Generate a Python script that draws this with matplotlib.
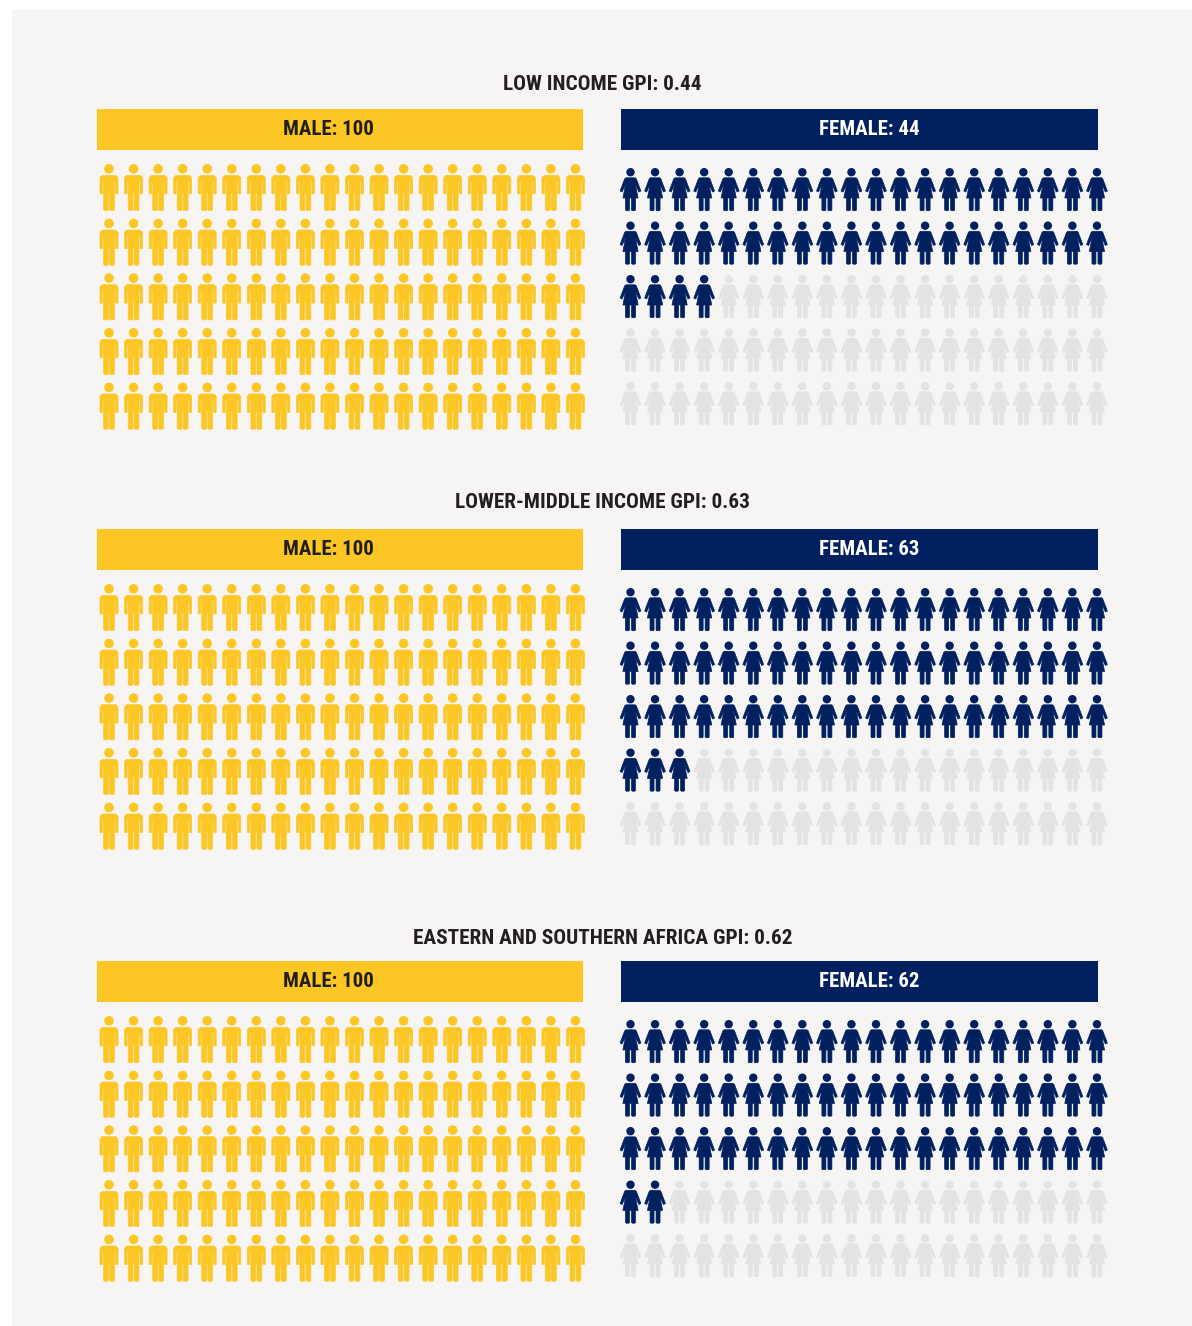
import matplotlib
matplotlib.use("Agg")
import matplotlib.pyplot as plt
from matplotlib.patches import PathPatch, Rectangle, Circle
from matplotlib.path import Path
from matplotlib.transforms import Affine2D

# Data
titles = ["LOW INCOME GPI: 0.44", "LOWER-MIDDLE INCOME GPI: 0.63",
          "EASTERN AND SOUTHERN AFRICA GPI: 0.62"]
male_counts = [100, 100, 100]
female_counts = [44, 63, 62]

YELLOW = "#fcc725"
NAVY = "#002060"
GREY = "#e3e3e3"
BG = "#f6f5f4"
TEXT = "#231f20"

# layout, in pixels of the 1192x1326 picture
title_y = [82, 501, 937]
bar_top = [109, 529, 961]
bar_h = 41
male_top = [164, 584, 1016]
female_top = [168, 588, 1020]
per_row = 20
male_x0, female_x0 = 109, 630.5
dx = 24.55
male_dy, female_dy = 54.65, 53.5


def polys_to_path(polys):
    verts = []
    codes = []
    for poly in polys:
        verts += poly + [poly[0]]
        codes += [Path.MOVETO] + [Path.LINETO] * (len(poly) - 1) + [Path.CLOSEPOLY]
    return Path(verts, codes)


def male_icon():
    # origin: centre of the figure, top of the head
    polys = [
        [(-6.8, 11.4), (6.8, 11.4), (9, 13.6), (9, 29.8), (6.5, 29.8), (6.5, 17.5), (5.4, 17.5),
         (5.4, 45.6), (4.6, 46.6), (1.4, 46.6), (0.6, 45.6), (0.6, 29), (-0.6, 29),
         (-0.6, 45.6), (-1.4, 46.6), (-4.6, 46.6), (-5.4, 45.6), (-5.4, 17.5), (-6.5, 17.5),
         (-6.5, 29.8), (-9, 29.8), (-9, 13.6)],
    ]
    return polys_to_path(polys), (0, 4.8), 4.8


def female_icon():
    polys = [
        # dress with arms
        [(-4.6, 9.8), (4.6, 9.8), (5.8, 10.8), (10.4, 23), (8.4, 24), (4.8, 16),
         (7.6, 30), (5, 30), (5, 42), (4.2, 42.7), (1.8, 42.7), (1, 42),
         (1, 30), (-1, 30), (-1, 42), (-1.8, 42.7), (-4.2, 42.7), (-5, 42),
         (-5, 30), (-7.6, 30), (-4.8, 16), (-8.4, 24), (-10.4, 23), (-5.8, 10.8)],
    ]
    return polys_to_path(polys), (0, 4.2), 4.2


def draw_people(ax, icon, x0, y0, dy, total, filled, color):
    path, head, r = icon
    for i in range(total):
        row, col = divmod(i, per_row)
        x = x0 + col * dx
        y = y0 + row * dy
        c = color if i < filled else GREY
        ax.add_patch(PathPatch(path.transformed(Affine2D().translate(x, y)),
                               facecolor=c, edgecolor=c, lw=0.5, joinstyle="round"))
        ax.add_patch(Circle((x + head[0], y + head[1]), r, facecolor=c, edgecolor="none"))


fig = plt.figure(figsize=(11.92, 13.26), dpi=100, facecolor="white")
ax = fig.add_axes([0, 0, 1, 1])
ax.set_xlim(0, 1192)
ax.set_ylim(1326, 0)
ax.axis("off")
ax.add_patch(Rectangle((12, 10), 1180, 1316, facecolor=BG, edgecolor="none"))

font = "Roboto Condensed"
for k in range(3):
    ax.text(602.5, title_y[k], titles[k], ha="center", va="center_baseline", color=TEXT,
            fontsize=15.3, fontweight="bold", family=font)
    ax.add_patch(Rectangle((97, bar_top[k]), 486, bar_h, facecolor=YELLOW, edgecolor="none"))
    ax.add_patch(Rectangle((621, bar_top[k]), 477, bar_h, facecolor=NAVY, edgecolor="none"))
    ax.text(328, bar_top[k] + bar_h / 2 - 2, f"MALE: {male_counts[k]}", ha="center", va="center_baseline",
            color=TEXT, fontsize=15, fontweight="bold", family=font)
    ax.text(869, bar_top[k] + bar_h / 2 - 2, f"FEMALE: {female_counts[k]}", ha="center", va="center_baseline",
            color="white", fontsize=15, fontweight="bold", family=font)
    draw_people(ax, male_icon(), male_x0, male_top[k], male_dy, 100, male_counts[k], YELLOW)
    draw_people(ax, female_icon(), female_x0, female_top[k], female_dy, 100, female_counts[k], NAVY)

fig.savefig("out.png", dpi=100, facecolor="white")
